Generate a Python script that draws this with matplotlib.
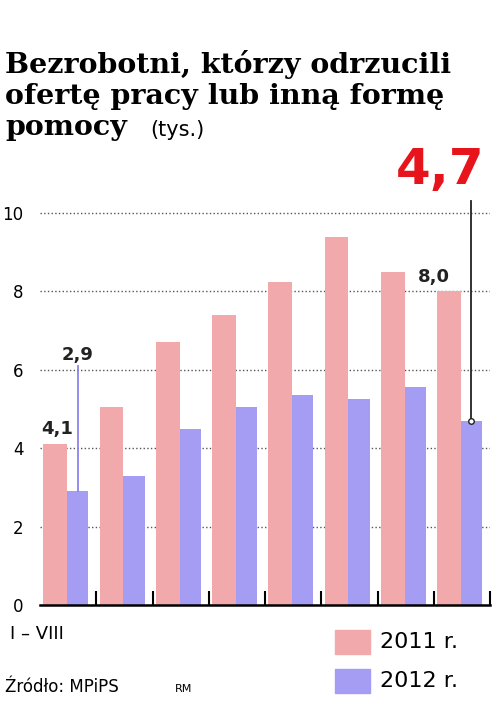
import matplotlib.pyplot as plt
from matplotlib.patches import Rectangle

v2011 = [4.1, 5.05, 6.7, 7.4, 8.25, 9.4, 8.5, 8.0]
v2012 = [2.9, 3.3, 4.5, 5.05, 5.35, 5.25, 5.55, 4.7]
yticks = [0, 2, 4, 6, 8, 10]
pink = '#f2a9ab'
blue = '#a59cf3'

fig = plt.figure(figsize=(5, 7.06), dpi=100)
ax = fig.add_axes([0.08, 0.143, 0.90, 0.583])
x = list(range(len(v2011)))
ax.set_axisbelow(True)
ax.grid(axis='y', linestyle=':', color='#555', lw=1)
ax.bar([i + 0.06 for i in x], v2011, width=0.42, align='edge', color=pink)
ax.bar([i + 0.48 for i in x], v2012, width=0.38, align='edge', color=blue)
ax.set_xlim(0, 8)
ax.set_ylim(0, 10.5)
for s in ['top', 'right', 'left']:
    ax.spines[s].set_visible(False)
ax.spines['bottom'].set_linewidth(1.8)
ax.set_xticks(range(1, 9))
ax.set_xticklabels([])
ax.tick_params(axis='x', length=10, width=1.5, direction='in')
ax.set_yticks(yticks)
ax.set_yticklabels([str(t) for t in yticks], fontsize=12)
ax.tick_params(axis='y', length=0, pad=12)

# annotations
ax.text(0.3, v2011[0] + 0.15, '4,1', ha='center', va='bottom', fontsize=13, fontweight='bold', color='#222')
ax.plot([0.67, 0.67], [v2012[0], 6.1], color='#8c82ee', lw=1.3)
ax.text(0.67, 6.15, '2,9', ha='center', va='bottom', fontsize=13, fontweight='bold', color='#222')
ax.text(7.0, v2011[7] + 0.15, '8,0', ha='center', va='bottom', fontsize=13, fontweight='bold', color='#222')
ax.plot([7.67, 7.67], [v2012[7], 10.3], color='#222', lw=1.3, clip_on=False)
ax.plot([7.67], [v2012[7]], 'o', ms=4, mfc='white', mec='#222')
fig.text(0.88, 0.74, '4,7', ha='center', fontsize=36, fontweight='bold', color='#e8141b')

fig.text(0.01, 0.80, 'Bezrobotni, którzy odrzucili\nofertę pracy lub inną formę\npomocy', family='DejaVu Serif',
         fontweight='bold', fontsize=20.5, va='bottom', linespacing=1.2)
fig.text(0.30, 0.802, '(tys.)', fontsize=15, va='bottom')

fig.text(0.02, 0.095, 'I – VIII', fontsize=13)
fig.text(0.01, 0.02, 'Źródło: MPiPS', fontsize=12)
fig.text(0.35, 0.02, 'RM', fontsize=8)
fig.patches.append(Rectangle((0.67, 0.073), 0.07, 0.035, transform=fig.transFigure, color=pink))
fig.patches.append(Rectangle((0.67, 0.018), 0.07, 0.035, transform=fig.transFigure, color=blue))
fig.text(0.76, 0.09, '2011 r.', fontsize=16, va='center')
fig.text(0.76, 0.035, '2012 r.', fontsize=16, va='center')

fig.savefig('out.png', dpi=100)
